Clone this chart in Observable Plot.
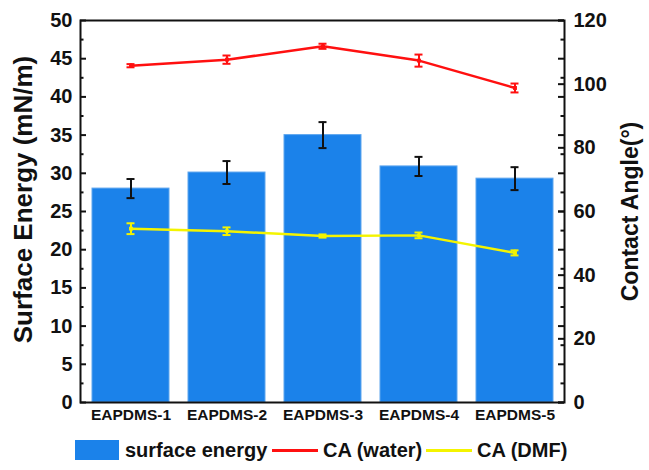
<!DOCTYPE html>
<html>
<head>
<meta charset="utf-8">
<script src="https://cdn.jsdelivr.net/npm/d3@7"></script>
<script src="https://cdn.jsdelivr.net/npm/@observablehq/plot@0.6"></script>
<style>
  html, body { margin: 0; padding: 0; background: #fff; }
  body { width: 649px; height: 470px; overflow: hidden; font-family: "Liberation Sans", Arial, sans-serif; }
  #legend { position: relative; height: 40px; font-weight: bold; font-size: 20px; color: #111; }
  #legend .item { position: absolute; top: 0; height: 40px; display: flex; align-items: center; }
  #legend .sw { display: inline-block; }
</style>
</head>
<body>
<div id="chart"></div>
<div id="legend"></div>
<script>
const categories = ["EAPDMS-1", "EAPDMS-2", "EAPDMS-3", "EAPDMS-4", "EAPDMS-5"];
const surfaceEnergy = [28.0, 30.1, 35.0, 30.9, 29.3];
const surfaceEnergyErr = [1.25, 1.5, 1.7, 1.25, 1.5];
const caWater = [105.8, 107.7, 111.9, 107.4, 98.8];
const caWaterErr = [0.5, 1.3, 0.8, 1.9, 1.4];
const caDMF = [54.6, 53.8, 52.3, 52.5, 47.0];
const caDMFErr = [1.7, 1.2, 0.5, 0.9, 0.8];
const leftTicks = [0, 5, 10, 15, 20, 25, 30, 35, 40, 45, 50];
const leftMinorTicks = [2.5, 7.5, 12.5, 17.5, 22.5, 27.5, 32.5, 37.5, 42.5, 47.5];
const rightTicks = [0, 20, 40, 60, 80, 100, 120];
const leftTitle = "Surface Energy (mN/m)";
const rightTitle = "Contact Angle(°)";
const legendLabels = ["surface energy", "CA (water)", "CA (DMF)"];

const colors = {bar: "#1b82ea", water: "#ff1010", dmf: "#f4f400"};
const leftMax = 50, rightMax = 120;
const toLeft = v => v * leftMax / rightMax;

const seData = categories.map((c, i) => ({c, v: surfaceEnergy[i], e: surfaceEnergyErr[i]}));
const waterData = categories.map((c, i) => ({c, v: toLeft(caWater[i]), e: toLeft(caWaterErr[i])}));
const dmfData = categories.map((c, i) => ({c, v: toLeft(caDMF[i]), e: toLeft(caDMFErr[i])}));

const W = 649, H = 430, mL = 80, mR = 85, mT = 20, mB = 28;
const plotW = W - mL - mR;

function errMarks(data, color) {
  return [
    Plot.ruleX(data, {x: "c", y1: d => d.v - d.e, y2: d => d.v + d.e, stroke: color, strokeWidth: 2}),
    Plot.tickY(data, {x: "c", y: d => d.v - d.e, stroke: color, strokeWidth: 2, insetLeft: 34.5, insetRight: 34.5}),
    Plot.tickY(data, {x: "c", y: d => d.v + d.e, stroke: color, strokeWidth: 2, insetLeft: 34.5, insetRight: 34.5})
  ];
}

const chart = Plot.plot({
  width: W, height: H,
  marginLeft: mL, marginRight: mR, marginTop: mT, marginBottom: mB,
  style: {fontFamily: "Liberation Sans, Arial, sans-serif", fontWeight: "bold", color: "#111", background: "#fff"},
  x: {type: "band", domain: categories, paddingInner: 0.2, paddingOuter: 0.114, label: null},
  y: {domain: [0, leftMax], label: null},
  marks: [
    Plot.barY(seData, {x: "c", y: "v", fill: colors.bar, stroke: "#5ea6ee", strokeWidth: 1}),
    ...errMarks(seData, "#111"),
    Plot.line(waterData, {x: "c", y: "v", stroke: colors.water, strokeWidth: 2.5}),
    ...errMarks(waterData, colors.water),
    Plot.dot(waterData, {x: "c", y: "v", symbol: "square", r: 2.2, fill: colors.water}),
    Plot.line(dmfData, {x: "c", y: "v", stroke: colors.dmf, strokeWidth: 2.5}),
    ...errMarks(dmfData, colors.dmf),
    Plot.dot(dmfData, {x: "c", y: "v", symbol: "square", r: 2.2, fill: colors.dmf}),
    // inward ticks, left side
    Plot.ruleY(leftTicks, {stroke: "#111", strokeWidth: 2, insetRight: plotW - 6}),
    Plot.ruleY(leftMinorTicks, {stroke: "#111", strokeWidth: 2, insetRight: plotW - 3.5}),
    // inward ticks, right side (mirror of left + right axis majors)
    Plot.ruleY(leftTicks, {stroke: "#111", strokeWidth: 2, insetLeft: plotW - 6}),
    Plot.ruleY(leftMinorTicks, {stroke: "#111", strokeWidth: 2, insetLeft: plotW - 3.5}),
    Plot.ruleY(rightTicks.map(toLeft), {stroke: "#111", strokeWidth: 2, insetLeft: plotW - 6}),
    Plot.frame({stroke: "#111", strokeWidth: 2}),
    Plot.axisY({anchor: "left", ticks: leftTicks, tickSize: 0, tickPadding: 8, fontSize: 20, fontWeight: "bold", label: null}),
    Plot.axisY({anchor: "right", ticks: rightTicks.map(toLeft), tickFormat: d => Math.round(d * rightMax / leftMax), tickSize: 0, tickPadding: 9, fontSize: 20, fontWeight: "bold", label: null}),
    Plot.axisX({tickSize: 0, tickPadding: 6, fontSize: 15.5, fontWeight: "bold", label: null}),
    Plot.text([leftTitle], {text: d => d, frameAnchor: "left", textAnchor: "middle", rotate: -90, dx: -57, dy: -12, fontSize: 26, fontWeight: "bold", fill: "#111"}),
    Plot.text([rightTitle], {text: d => d, frameAnchor: "right", textAnchor: "middle", rotate: -90, dx: 66, fontSize: 23, fontWeight: "bold", fill: "#111"})
  ]
});
document.getElementById("chart").appendChild(chart);

const legend = document.getElementById("legend");
const items = [
  {label: legendLabels[0], left: 75, swatch: `<span class="sw" style="width:44px;height:20px;background:${colors.bar};margin-right:6px"></span>`},
  {label: legendLabels[1], left: 272, swatch: `<span class="sw" style="width:46px;height:3px;background:${colors.water};margin-right:5px"></span>`},
  {label: legendLabels[2], left: 426, swatch: `<span class="sw" style="width:46px;height:3px;background:${colors.dmf};margin-right:5px"></span>`}
];
for (const it of items) {
  const d = document.createElement("div");
  d.className = "item";
  d.style.left = it.left + "px";
  d.innerHTML = it.swatch + `<span>${it.label}</span>`;
  legend.appendChild(d);
}
</script>
</body>
</html>
